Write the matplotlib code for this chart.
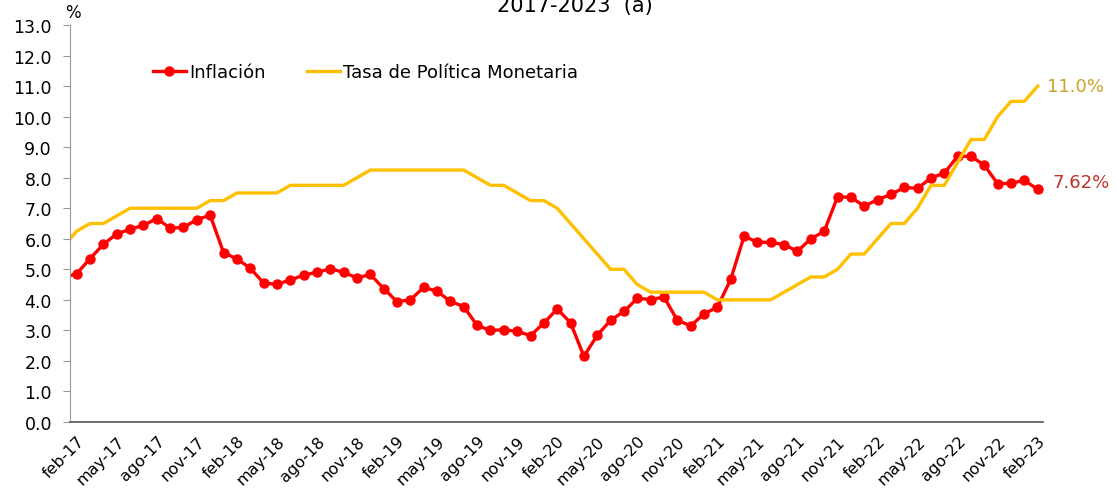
import numpy as np
import matplotlib
matplotlib.use("Agg")
import matplotlib.pyplot as plt

# meses ene-17 .. feb-23
meses = ['ene', 'feb', 'mar', 'abr', 'may', 'jun', 'jul', 'ago', 'sep', 'oct', 'nov', 'dic']
fechas = [f"{meses[m]}-{a % 100:02d}" for a in range(2017, 2024) for m in range(12)][:74]

# inflación anual (%)
inflacion = [4.72,
             4.86, 5.35, 5.82, 6.16, 6.31, 6.44, 6.66, 6.35, 6.37, 6.63, 6.77,
             5.55, 5.34, 5.04, 4.55, 4.51, 4.65, 4.81, 4.90, 5.02, 4.90, 4.72, 4.83,
             4.37, 3.94, 4.00, 4.41, 4.28, 3.95, 3.78, 3.16, 3.00, 3.02, 2.97, 2.83,
             3.24, 3.70, 3.25, 2.15, 2.84, 3.33, 3.62, 4.05, 4.01, 4.09, 3.33, 3.15,
             3.54, 3.76, 4.67, 6.08, 5.89, 5.88, 5.81, 5.59, 6.00, 6.24, 7.37, 7.36,
             7.07, 7.28, 7.45, 7.68, 7.65, 7.99, 8.15, 8.70, 8.70, 8.41, 7.80, 7.82,
             7.91, 7.62]

# tasa de política monetaria (%)
tasa = [5.75, 6.25, 6.5, 6.5, 6.75, 7.0, 7.0, 7.0, 7.0, 7.0, 7.0, 7.25,
        7.25, 7.5, 7.5, 7.5, 7.5, 7.75, 7.75, 7.75, 7.75, 7.75, 8.0, 8.25,
        8.25, 8.25, 8.25, 8.25, 8.25, 8.25, 8.25, 8.0, 7.75, 7.75, 7.5, 7.25,
        7.25, 7.0, 6.5, 6.0, 5.5, 5.0, 5.0, 4.5, 4.25, 4.25, 4.25, 4.25,
        4.25, 4.0, 4.0, 4.0, 4.0, 4.0, 4.25, 4.5, 4.75, 4.75, 5.0, 5.5,
        5.5, 6.0, 6.5, 6.5, 7.0, 7.75, 7.75, 8.5, 9.25, 9.25, 10.0, 10.5,
        10.5, 11.0]

x = np.arange(len(fechas))
rojo = '#FF0000'
amarillo = '#FFC000'

fig = plt.figure(figsize=(11.17, 4.89), dpi=100)
ax = fig.add_axes([0.0627, 0.135, 0.8711, 0.8118])

ax.plot(x, inflacion, color=rojo, lw=2.4, marker='o', ms=6.5, label='Inflación')
ax.plot(x, tasa, color=amarillo, lw=2.4, label='Tasa de Política Monetaria')

ax.set_xlim(0.5, 73.4)
ax.set_ylim(0, 13)
ax.set_yticks(np.arange(0, 13.5, 1.0))
ax.set_yticklabels([f"{v:.1f}" for v in np.arange(0, 13.5, 1.0)])
ax.set_xticks(x[1::3])
ax.set_xticklabels(fechas[1::3], rotation=45, ha='right', va='top', rotation_mode='anchor')

ax.tick_params(axis='y', direction='out', length=5, color='#999999', labelsize=12.5, pad=8)
ax.tick_params(axis='x', length=0, labelsize=11.5, pad=8)
for s in ['top', 'right']:
    ax.spines[s].set_visible(False)
ax.spines['left'].set_color('#999999')
ax.spines['bottom'].set_color('#555555')
ax.spines['bottom'].set_linewidth(1.2)

ax.annotate('11.0%', (x[-1], tasa[-1]), xytext=(7, 0), textcoords='offset points',
            color='#C9A227', fontsize=13, va='center', ha='left')
ax.annotate(f'{inflacion[-1]:.2f}%', (x[-1], inflacion[-1]), xytext=(11, 5), textcoords='offset points',
            color='#C0302E', fontsize=13, va='center', ha='left')

ax.legend(loc='center left', bbox_to_anchor=(0.137, 0.851), bbox_transform=fig.transFigure,
          ncol=2, frameon=False, fontsize=13, borderpad=0, borderaxespad=0,
          handlelength=1.8, handletextpad=0.2, columnspacing=2.3)

fig.text(0.065, 1 - 13 / 489, '%', fontsize=12, ha='center', va='center')
fig.text(0.515, 1 - 12 / 489, '2017-2023  (a)', fontsize=15, ha='center', va='baseline')

fig.savefig('out.png', dpi=100)
